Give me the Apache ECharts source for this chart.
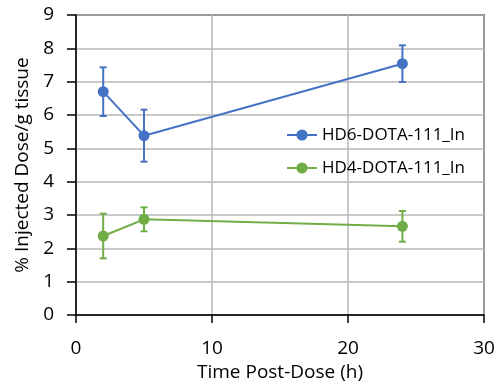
<!DOCTYPE html>
<html>
<head>
<meta charset="utf-8">
<script src="https://cdn.jsdelivr.net/npm/echarts@6/dist/echarts.min.js"></script>
<style>html,body{margin:0;padding:0;background:#fff;}#c{width:499px;height:390px;}</style>
</head>
<body>
<div id="c"></div>
<script>
var seriesNames = ['HD6-DOTA-111_In', 'HD4-DOTA-111_In'];
var times = [2, 5, 24];
var hd6 = [6.70, 5.38, 7.54];
var hd6Err = [0.73, 0.78, 0.55];
var hd4 = [2.37, 2.87, 2.66];
var hd4Err = [0.67, 0.36, 0.46];
var xTicks = [0, 10, 20, 30];
var yTicks = [0, 1, 2, 3, 4, 5, 6, 7, 8, 9];

var colors = ['#4472C4', '#70AD47'];
var FONT = 'Open Sans';

function pts(xs, ys) { return xs.map(function (x, i) { return [x, ys[i]]; }); }
function errs(xs, ys, es) { return xs.map(function (x, i) { return [x, ys[i] - es[i], ys[i] + es[i]]; }); }

function errRender(color) {
  return function (params, api) {
    var x = api.value(0);
    var lo = api.coord([x, api.value(1)]);
    var hi = api.coord([x, api.value(2)]);
    var h = 3.5;
    var st = { stroke: color, lineWidth: 2 };
    return {
      type: 'group',
      children: [
        { type: 'line', shape: { x1: lo[0], y1: lo[1], x2: hi[0], y2: hi[1] }, style: st },
        { type: 'line', shape: { x1: lo[0] - h, y1: lo[1], x2: lo[0] + h, y2: lo[1] }, style: st },
        { type: 'line', shape: { x1: hi[0] - h, y1: hi[1], x2: hi[0] + h, y2: hi[1] }, style: st }
      ]
    };
  };
}

var chart = echarts.init(document.getElementById('c'), null, { renderer: 'canvas' });
chart.setOption({
  animation: false,
  backgroundColor: '#fff',
  textStyle: { fontFamily: FONT },
  grid: { left: 76, right: 15, top: 15, bottom: 75, show: true, borderColor: '#000', borderWidth: 1.5, backgroundColor: 'transparent' },
  legend: {
    orient: 'vertical',
    left: 281,
    top: 120,
    itemGap: 13,
    itemWidth: 30,
    itemHeight: 14,
    data: seriesNames,
    textStyle: { fontFamily: FONT, fontSize: 17, color: '#000', lineHeight: 20 }
  },
  xAxis: {
    type: 'value',
    min: xTicks[0], max: xTicks[xTicks.length - 1], interval: 10,
    name: 'Time Post-Dose (h)', nameLocation: 'middle', nameGap: 45,
    nameTextStyle: { fontFamily: FONT, fontSize: 19, color: '#000' },
    axisLine: { show: true, onZero: false, lineStyle: { color: '#000', width: 1.5 } },
    axisTick: { show: true, length: 8, lineStyle: { color: '#000', width: 1.5 } },
    axisLabel: { fontFamily: FONT, fontSize: 19, color: '#000', margin: 24 },
    splitLine: { show: true, lineStyle: { color: '#b8b8b8', width: 1.5 } }
  },
  yAxis: {
    type: 'value',
    min: yTicks[0], max: yTicks[yTicks.length - 1], interval: 1,
    name: '% Injected Dose/g tissue', nameLocation: 'middle', nameGap: 44,
    nameTextStyle: { fontFamily: FONT, fontSize: 19, color: '#000' },
    axisLine: { show: true, lineStyle: { color: '#000', width: 1.5 } },
    axisTick: { show: true, length: 9, lineStyle: { color: '#000', width: 1.5 } },
    axisLabel: { fontFamily: FONT, fontSize: 19, color: '#000', margin: 22 },
    splitLine: { show: true, lineStyle: { color: '#b8b8b8', width: 1.5 } }
  },
  series: [
    {
      name: seriesNames[0], type: 'line', data: pts(times, hd6),
      symbol: 'circle', symbolSize: 11, z: 3,
      itemStyle: { color: colors[0] }, lineStyle: { color: colors[0], width: 2 }
    },
    {
      name: seriesNames[1], type: 'line', data: pts(times, hd4),
      symbol: 'circle', symbolSize: 11, z: 3,
      itemStyle: { color: colors[1] }, lineStyle: { color: colors[1], width: 2 }
    },
    { type: 'custom', name: 'err6', data: errs(times, hd6, hd6Err), renderItem: errRender(colors[0]), z: 2 },
    { type: 'custom', name: 'err4', data: errs(times, hd4, hd4Err), renderItem: errRender(colors[1]), z: 2 }
  ]
});
</script>
</body>
</html>
